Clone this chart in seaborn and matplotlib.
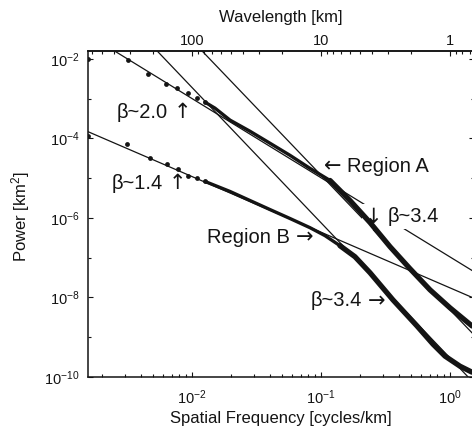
import numpy as np
import matplotlib
matplotlib.use("Agg")
import matplotlib.pyplot as plt
import matplotlib.ticker as mticker
import seaborn as sns

# power spectrum, region A (upper curve)
freq_a = np.array([0.00156, 0.00319, 0.00456, 0.00628, 0.00765, 0.00931, 0.01094,
                   0.01262, 0.01508, 0.01972, 0.02818, 0.04024, 0.05754, 0.08222,
                   0.1175, 0.1679, 0.2399, 0.3428, 0.4898, 0.6998, 1.0, 1.482])
power_a = np.array([1.0e-2, 9.4e-3, 4.2e-3, 2.34e-3, 1.85e-3, 1.38e-3, 1.04e-3,
                    8.2e-4, 5.8e-4, 2.9e-4, 1.52e-4, 7.6e-5, 3.77e-5, 1.77e-5,
                    8.8e-6, 2.75e-6, 7.7e-7, 1.9e-7, 5.3e-8, 1.56e-8, 5.5e-9, 1.92e-9])

# region B (lower curve)
freq_b = np.array([0.00156, 0.00313, 0.00472, 0.00640, 0.00779, 0.00931, 0.01094,
                   0.01262, 0.01972, 0.02818, 0.04024, 0.05754, 0.08222, 0.1074,
                   0.1403, 0.1835, 0.2399, 0.3614, 0.5550, 0.7383, 0.9146, 1.1952, 1.482])
power_b = np.array([1.14e-4, 7.1e-5, 3.16e-5, 2.23e-5, 1.67e-5, 1.15e-5, 9.9e-6,
                    8.3e-6, 4.65e-6, 2.75e-6, 1.63e-6, 9.7e-7, 5.7e-7, 3.6e-7,
                    2.01e-7, 1.06e-7, 4.2e-8, 8.7e-9, 1.92e-9, 6.7e-10, 3.35e-10,
                    1.87e-10, 1.32e-10])

n_dots = 8        # lowest frequencies are drawn as single dots
f_split = 0.11    # above this the estimates pile up into a thick band

# straight power-law fits (end points)
fit_b20_f = [0.00156, 1.5]
fit_b20_p = [4.11e-2, 4.67e-8]
fit_b14_f = [0.00156, 1.5]
fit_b14_p = [1.49e-4, 9.9e-9]
fit_a34_f = [0.00807, 1.5]
fit_a34_p = [6.07e-2, 1.24e-9]
fit_b34_f = [0.00395, 1.5]
fit_b34_p = [4.54e-2, 7.57e-11]

wave_major = [100, 10, 1]
wave_minor = [600, 500, 400, 300, 200, 90, 80, 70, 60, 50, 40, 30, 20,
              9, 8, 7, 6, 5, 4, 3, 2, 0.9, 0.8, 0.7]

sns.set_theme(style="ticks")
plt.rcParams["font.family"] = ["Liberation Sans", "DejaVu Sans"]
plt.rcParams["mathtext.fontset"] = "custom"
plt.rcParams["mathtext.rm"] = "Liberation Sans"
plt.rcParams["mathtext.it"] = "Liberation Sans:italic"
plt.rcParams["mathtext.bf"] = "Liberation Sans:bold"

ink = "#141414"
fig = plt.figure(figsize=(4.72, 4.30), dpi=100)
ax = fig.add_axes([0.1864, 0.1233, 0.8178, 0.7581])
ax.set_xscale("log")
ax.set_yscale("log")

for f, p in [(fit_b20_f, fit_b20_p), (fit_b14_f, fit_b14_p),
             (fit_a34_f, fit_a34_p), (fit_b34_f, fit_b34_p)]:
    sns.lineplot(x=f, y=p, ax=ax, color=ink, linewidth=0.9,
                 estimator=None, sort=False, zorder=2)

for f, p in [(freq_a, power_a), (freq_b, power_b)]:
    sns.scatterplot(x=f[:n_dots], y=p[:n_dots], ax=ax, color=ink, s=12,
                    linewidth=0, zorder=4)
    mid = (np.arange(len(f)) >= n_dots - 1) & (f <= f_split * 1.4)
    high = f >= f_split
    sns.lineplot(x=f[mid], y=p[mid], ax=ax, color=ink, linewidth=2.4,
                 estimator=None, sort=False, zorder=4, solid_capstyle="round")
    sns.lineplot(x=f[high], y=p[high], ax=ax, color=ink, linewidth=3.8,
                 estimator=None, sort=False, zorder=4, solid_capstyle="round")

ax.set_xlim(0.001563, 1.535)
ax.set_ylim(1e-10, 0.0159)

ax.yaxis.set_major_locator(mticker.FixedLocator([1e-10, 1e-8, 1e-6, 1e-4, 1e-2]))
ax.yaxis.set_minor_locator(mticker.FixedLocator([1e-9, 1e-7, 1e-5, 1e-3]))
ax.yaxis.set_minor_formatter(mticker.NullFormatter())
ax.tick_params(which="both", direction="in", colors=ink, labelsize=10.5,
               right=True, width=0.8)
ax.tick_params(which="major", length=3.5)
ax.tick_params(which="minor", length=2)
ax.tick_params(axis="x", pad=8)
ax.tick_params(axis="y", pad=6)
for s in ax.spines.values():
    s.set_color(ink)
    s.set_linewidth(1.1)

inv = lambda x: 1.0 / np.maximum(np.asarray(x, dtype=float), 1e-12)
sec = ax.secondary_xaxis("top", functions=(inv, inv))
sec.xaxis.set_major_locator(mticker.FixedLocator(wave_major))
sec.xaxis.set_minor_locator(mticker.FixedLocator(wave_minor))
sec.xaxis.set_major_formatter(mticker.FuncFormatter(lambda v, _: f"{v:g}"))
sec.xaxis.set_minor_formatter(mticker.NullFormatter())
sec.tick_params(which="both", direction="in", colors=ink, labelsize=10.5, pad=2.5, width=0.8)
sec.tick_params(which="major", length=3.5)
sec.tick_params(which="minor", length=2)
sec.set_xlabel("Wavelength [km]", fontsize=12, color=ink, labelpad=8)

ax.set_xlabel("Spatial Frequency [cycles/km]", fontsize=12, color=ink)
ax.xaxis.set_label_coords(0.5, -0.104)
ax.set_ylabel("Power [km$^2$]", fontsize=12, color=ink)
ax.yaxis.set_label_coords(-0.145, 0.491)

fs = 14.5
white = dict(boxstyle="square,pad=0.15", fc="white", ec="none")


def tag(x, y, words, arrow, side, box=None):
    ha = "left" if side == "before" else "right"
    t = ax.text(x, y, words, fontsize=fs, ha=ha, va="center", color=ink,
                zorder=3, bbox=box)
    if side == "before":
        ax.annotate(arrow, xy=(0, 0.5), xycoords=t, xytext=(-4, 0),
                    textcoords="offset points", ha="right", va="center",
                    fontsize=15, family="DejaVu Sans", color=ink, zorder=3, bbox=box)
    else:
        ax.annotate(arrow, xy=(1, 0.5), xycoords=t, xytext=(4, 0),
                    textcoords="offset points", ha="left", va="center",
                    fontsize=15, family="DejaVu Sans", color=ink, zorder=3, bbox=box)


tag(0.00651, 4.6e-4, "β~2.0", "↑", "after")
tag(0.00596, 7.4e-6, "β~1.4", "↑", "after")
tag(0.159, 1.99e-5, "Region A", "←", "before")
tag(0.3307, 1.08e-6, "β~3.4", "↓", "before", box=white)
tag(0.0575, 3.2e-7, "Region B", "→", "after")
tag(0.208, 8.2e-9, "β~3.4", "→", "after")

fig.savefig("out.png", dpi=100, facecolor="white")
